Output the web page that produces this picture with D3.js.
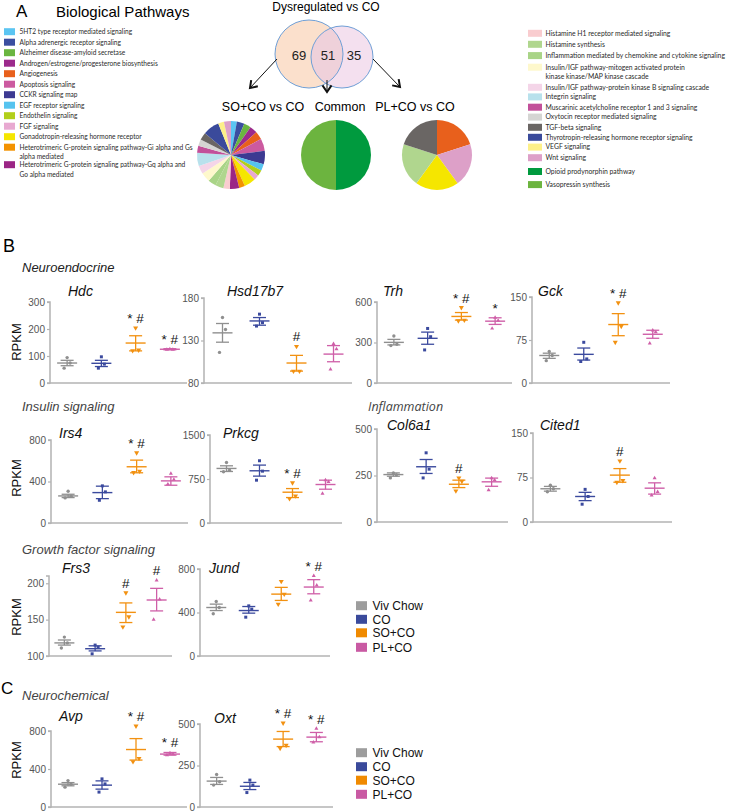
<!DOCTYPE html>
<html><head><meta charset="utf-8">
<script src="https://cdn.jsdelivr.net/npm/d3@7"></script>
<style>body{margin:0;background:#fff}svg{display:block}</style>
</head><body>
<script>
// ---------- Panel A data ----------
const leftPathways = [
  ["5HT2 type receptor mediated signaling"],
  ["Alpha adrenergic receptor signaling"],
  ["Alzheimer disease-amyloid secretase"],
  ["Androgen/estrogene/progesterone biosynthesis"],
  ["Angiogenesis"],
  ["Apoptosis signaling"],
  ["CCKR signaling map"],
  ["EGF receptor signaling"],
  ["Endothelin signaling"],
  ["FGF signaling"],
  ["Gonadotropin-releasing hormone receptor"],
  ["Heterotrimeric G-protein signaling pathway-Gi alpha and Gs", "alpha mediated"],
  ["Heterotrimeric G-protein signaling pathway-Gq alpha and", "Go alpha mediated"]
];
const leftColors = ["#5bc5f2","#3b4ea0","#6ab540","#9c2a8c","#e8601c","#cc5aa0","#3d3a92",
  "#56c3ef","#b2cf1a","#e8a9d1","#f5e600","#f39200","#9b2585"];
const rightPathways = [
  ["Histamine H1 receptor mediated signaling"],
  ["Histamine synthesis"],
  ["Inflammation mediated by chemokine and cytokine signaling"],
  ["Insulin/IGF pathway-mitogen activated protein", "kinase kinase/MAP kinase cascade"],
  ["Insulin/IGF pathway-protein kinase B signaling cascade"],
  ["Integrin signaling"],
  ["Muscarinic acetylcholine receptor 1 and 3 signaling"],
  ["Oxytocin receptor mediated signaling"],
  ["TGF-beta signaling"],
  ["Thyrotropin-releasing hormone receptor signaling"],
  ["VEGF signaling"],
  ["Wnt signaling"],
  ["Opioid prodynorphin pathway"],
  ["Vasopressin synthesis"]
];
const rightColors = ["#f9cccf","#b0d68e","#a9d487","#fef8cc","#f4d5e8","#b8e1ec","#c2509a",
  "#d5d5d3","#6a6664","#3a4a9b","#fdf089","#dda0c8","#009a3e","#6cb43f"];
const vennCounts = [69, 51, 35];
const vennTitle = "Dysregulated vs CO";
const pieTitles = ["SO+CO vs CO", "Common", "PL+CO vs CO"];
const soPieValues = [10,13,12,13,14,21,23,11,10,9,20,10,16,11,14,14,16,14,23,12,11,13,28,10,12];
const commonPieValues = [1, 1];
const commonPieColors = ["#009a3e", "#6cb43f"];
const plPieValues = [1, 1, 1, 1, 1];
const plPieColors = ["#e8601c", "#dda0c8", "#f5e600", "#b0d68e", "#6a6664"];

// ---------- Panel B / C data ----------
const groups = ["Viv Chow", "CO", "SO+CO", "PL+CO"];
const groupColors = ["#8f8f8f", "#3b4a9e", "#f29111", "#cf5fa8"];
const legendColors = ["#9d9d9d", "#3a4a9b", "#f08a00", "#c95aa3"];
const genes = ["Hdc","Hsd17b7","Trh","Gck","Irs4","Prkcg","Col6a1","Cited1","Frs3","Jund","Avp","Oxt"];
const yDomains = [[0,300],[80,180],[0,600],[0,150],[0,800],[0,1500],[0,500],[0,150],[100,210],[0,800],[0,800],[0,500]];
const yTicks = [[0,100,200,300],[80,130,180],[0,300,600],[0,75,150],[0,400,800],[0,750,1500],
  [0,250,500],[0,75,150],[100,150,200],[0,400,800],[0,400,800],[0,250,500]];

const pointsHdc = [[94,74,55],[97,70,55],[204,122,120],[126,124,124]];
const meanHdc = [74,73,148,125];
const semHdc = [[64,84],[61,84],[119,175],[123,127]];
const sigHdc = ["","","* #","* #"];

const pointsHsd17b7 = [[157,143,116],[161,151,147],[123,94,94],[126,120,96]];
const meanHsd17b7 = [139,153,103.5,114];
const semHsd17b7 = [[128,150],[148,157],[94,112.5],[105,124]];
const sigHsd17b7 = ["","","#",""];

const pointsTrh = [[348,287,277],[404,343,245],[559,466,461],[485,463,404]];
const meanTrh = [301,331,493,458];
const semTrh = [[282,323],[287,377],[466,522],[434,483]];
const sigTrh = ["","","* #","*"];

const pointsGck = [[55,48,39],[71,42,37.5],[140,99,71],[92,89,69]];
const meanGck = [48,50,102,85];
const semGck = [[43,52],[40,61],[82.5,121],[78,92]];
const sigGck = ["","","* #",""];

const pointsIrs4 = [[306,258,242],[358,300,219],[677,500,487],[477,419,374]];
const meanIrs4 = [261,293,542,406];
const semIrs4 = [[245,277],[235,355],[484,606],[364,445]];
const sigIrs4 = ["","","* #",""];

const pointsPrkcg = [[1032,901,873],[1061,884,730],[685,462,416],[730,702,502]];
const meanPrkcg = [930,890,525,656];
const semPrkcg = [[878,975],[799,987],[434,587],[576,730]];
const sigPrkcg = ["","","* #",""];

const pointsCol6a1 = [[264,254,237],[372,284,237],[237,219,167],[236,225,171]];
const meanCol6a1 = [255,297,203,216];
const semCol6a1 = [[246,264],[261,336],[185,225],[192,236]];
const sigCol6a1 = ["","","#",""];

const pointsCited1 = [[62,56,51],[55,43,30],[103,70,67],[74,51,45]];
const meanCited1 = [56,43,79,57];
const semCited1 = [[52,60],[36,50],[67,90],[47,66]];
const sigCited1 = ["","","#",""];

const pointsFrs3 = [[126,118,111],[115,112,103],[187,154,140],[204,178,150]];
const meanFrs3 = [118,110,160,177];
const semFrs3 = [[115,122],[107,114],[146,173],[162,193]];
const sigFrs3 = ["","","#","#"];

const pointsJund = [[501,446,388],[461,431,357],[686,569,477],[738,649,511]];
const meanJund = [446,418,569,634];
const semJund = [[418,477],[394,455],[511,631],[572,702]];
const sigJund = ["","","","* #"];

const pointsAvp = [[278,240,209],[296,243,157],[852,511,477],[567,556,546]];
const meanAvp = [240,230,605,557];
const semAvp = [[223,257],[188,275],[494,720],[546,574]];
const sigAvp = ["","","* #","* #"];

const pointsOxt = [[196,152,132],[162,132,87],[506,372,354],[472,421,389]];
const meanOxt = [156,125,409,421];
const semOxt = [[136,178],[105,148],[364,455],[393,449]];
const sigOxt = ["","","* #","* #"];

const sectionTitles = ["Neuroendocrine","Insulin signaling","Inflammation","Growth factor signaling","Neurochemical"];

const geneData = {
  Hdc:[pointsHdc,meanHdc,semHdc,sigHdc], Hsd17b7:[pointsHsd17b7,meanHsd17b7,semHsd17b7,sigHsd17b7],
  Trh:[pointsTrh,meanTrh,semTrh,sigTrh], Gck:[pointsGck,meanGck,semGck,sigGck],
  Irs4:[pointsIrs4,meanIrs4,semIrs4,sigIrs4], Prkcg:[pointsPrkcg,meanPrkcg,semPrkcg,sigPrkcg],
  Col6a1:[pointsCol6a1,meanCol6a1,semCol6a1,sigCol6a1], Cited1:[pointsCited1,meanCited1,semCited1,sigCited1],
  Frs3:[pointsFrs3,meanFrs3,semFrs3,sigFrs3], Jund:[pointsJund,meanJund,semJund,sigJund],
  Avp:[pointsAvp,meanAvp,semAvp,sigAvp], Oxt:[pointsOxt,meanOxt,semOxt,sigOxt]
};

// ---------- layout ----------
const W = 729, H = 812;
const FONT = "'Liberation Sans', Arial, sans-serif";
const svg = d3.select("body").append("svg").attr("width", W).attr("height", H)
  .style("font-family", FONT);

// Panel A header
svg.append("text").attr("x", 16).attr("y", 17).attr("font-size", 17).text("A");
svg.append("text").attr("x", 56).attr("y", 16.5).attr("font-size", 15).text("Biological Pathways");

// legends
function drawLegend(items, colors, x, ys, sw, textX, fs) {
  const g = svg.append("g");
  items.forEach((lines, i) => {
    g.append("rect").attr("x", x).attr("y", ys[i] - 3.5).attr("width", sw).attr("height", 7)
      .attr("fill", colors[i]);
    lines.forEach((ln, j) => {
      g.append("text").attr("x", textX).attr("y", ys[i] + 2.3 + j * 9.8)
        .attr("font-size", fs).attr("font-family", "Lato, 'Open Sans', sans-serif")
        .attr("fill", "#2a2a2a").text(ln);
    });
  });
}
const leftYs = [];
{ let y = 31.7; leftPathways.forEach(l => { leftYs.push(y); y += 10.5 + (l.length - 1) * 7; }); }
drawLegend(leftPathways, leftColors, 4, leftYs, 11, 19.5, 6.6);
const rightYs = [33.3, 44.3, 55.6, 67.2, 87.3, 96.9, 107.2, 117.1, 127.3, 137.3, 147.1, 157.7, 171.5, 184.6];
drawLegend(rightPathways, rightColors, 528, rightYs, 14, 545.5, 6.8);

// Venn
svg.append("text").attr("x", 326).attr("y", 10.5).attr("font-size", 12).attr("text-anchor", "middle").text(vennTitle);
const cL = {x: 309, y: 54, r: 34}, cR = {x: 342, y: 57, r: 31};
const defs = svg.append("defs");
defs.append("clipPath").attr("id", "clipL").append("circle").attr("cx", cL.x).attr("cy", cL.y).attr("r", cL.r);
svg.append("circle").attr("cx", cL.x).attr("cy", cL.y).attr("r", cL.r).attr("fill", "#fbe0cc");
svg.append("circle").attr("cx", cR.x).attr("cy", cR.y).attr("r", cR.r).attr("fill", "#f4e0ef");
svg.append("circle").attr("cx", cR.x).attr("cy", cR.y).attr("r", cR.r).attr("fill", "#efd1da").attr("clip-path", "url(#clipL)");
[cL, cR].forEach(c => svg.append("circle").attr("cx", c.x).attr("cy", c.y).attr("r", c.r)
  .attr("fill", "none").attr("stroke", "#6f9fd6").attr("stroke-width", 1));
[[299, vennCounts[0]], [328, vennCounts[1]], [354, vennCounts[2]]].forEach(([x, t]) =>
  svg.append("text").attr("x", x).attr("y", 59.5).attr("font-size", 13).attr("text-anchor", "middle").attr("fill", "#222").text(t));

// arrows
function arrow(x1, y1, x2, y2) {
  svg.append("line").attr("x1", x1).attr("y1", y1).attr("x2", x2).attr("y2", y2)
    .attr("stroke", "#111").attr("stroke-width", 1);
  const a = Math.atan2(y2 - y1, x2 - x1), L = 8, s = 0.6;
  const p1 = [x2 - L * Math.cos(a - s), y2 - L * Math.sin(a - s)];
  const p2 = [x2 - L * Math.cos(a + s), y2 - L * Math.sin(a + s)];
  svg.append("path").attr("d", `M${p1}L${x2},${y2}L${p2}`).attr("fill", "none")
    .attr("stroke", "#111").attr("stroke-width", 2);
}
arrow(277, 59, 250, 88);
arrow(327, 80, 327, 92);
arrow(373, 59, 400, 87);

// pie titles
[[263, pieTitles[0]], [340, pieTitles[1]], [415, pieTitles[2]]].forEach(([x, t]) =>
  svg.append("text").attr("x", x).attr("y", 110.5).attr("font-size", 12.5).attr("text-anchor", "middle").text(t));

// pies
function drawPie(values, colors, cx, cy, r) {
  const arcs = d3.pie().sort(null)(values);
  const arcGen = d3.arc().innerRadius(0).outerRadius(r);
  svg.append("g").attr("transform", `translate(${cx},${cy})`).selectAll("path").data(arcs).join("path")
    .attr("d", arcGen).attr("fill", (d, i) => colors[i]);
}
drawPie(soPieValues, leftColors.concat(rightColors.slice(0, 12)), 231, 155, 34);
drawPie(commonPieValues, commonPieColors, 336, 155, 35);
drawPie(plPieValues, plPieColors, 437, 155, 35);

// ---------- Panel B/C ----------
svg.append("text").attr("x", 3).attr("y", 252).attr("font-size", 18).text("B");
svg.append("text").attr("x", 1).attr("y", 694).attr("font-size", 17).text("C");

const sectionPos = [[22, 272], [22, 410.5], [368, 410.5], [22, 553.5], [22, 700]];
sectionTitles.forEach((t, i) => svg.append("text").attr("x", sectionPos[i][0]).attr("y", sectionPos[i][1])
  .attr("font-size", i === 2 ? 12.5 : 13).attr("font-style", "italic")
  .attr("font-family", i === 2 ? "'Open Sans', sans-serif" : FONT)
  .attr("fill", i === 0 ? "#222" : "#444").text(t));

[342, 478, 617, 760].forEach(cy => svg.append("text").attr("transform", `translate(21,${cy}) rotate(-90)`)
  .attr("font-size", 13).attr("text-anchor", "middle").attr("fill", "#111").text("RPKM"));

const layout = [
  {x0:50, x1:187, yb:383, yt:302, tx:18, ty:296},
  {x0:204,x1:352, yb:383, yt:298, tx:23, ty:296},
  {x0:377,x1:512, yb:383, yt:302, tx:6,  ty:296},
  {x0:532,x1:670, yb:383, yt:297, tx:6,  ty:296},
  {x0:51, x1:188, yb:523, yt:440, tx:8,  ty:438},
  {x0:210,x1:342, yb:523, yt:435, tx:13, ty:438},
  {x0:377,x1:508, yb:522, yt:429, tx:10, ty:430},
  {x0:533,x1:672, yb:522, yt:433, tx:7,  ty:430},
  {x0:49, x1:172, yb:656, yt:576, tx:13, ty:573},
  {x0:200,x1:330, yb:656, yt:569, tx:9,  ty:573},
  {x0:51, x1:187, yb:807, yt:731, tx:8,  ty:721},
  {x0:200,x1:333, yb:807, yt:724, tx:14, ty:723}
];
const jitter = [0, 3, -3];
const symbols = [d3.symbolCircle, d3.symbolSquare, d3.symbolTriangle, d3.symbolTriangle];
const symRot = [0, 0, 180, 0];
const symSize = [9, 9, 11, 7];

genes.forEach((gene, gi) => {
  const L = layout[gi];
  const [pts, means, sems, sigs] = geneData[gene];
  const y = d3.scaleLinear().domain(yDomains[gi]).range([L.yb, L.yt]);
  const x = d3.scalePoint().domain(groups).range([L.x0, L.x1]).padding(0.5);
  const g = svg.append("g");
  const ay = g.append("g").attr("transform", `translate(${L.x0},0)`)
    .call(d3.axisLeft(y).tickValues(yTicks[gi]).tickSize(3).tickPadding(2).tickFormat(d3.format("d")));
  ay.select(".domain").attr("stroke", "#b3b3b3").attr("stroke-width", 1.5).attr("d", `M-3,${L.yt}H0V${L.yb}H-3`);
  ay.selectAll(".tick line").attr("stroke", "#b3b3b3").attr("stroke-width", 1.2);
  ay.selectAll(".tick text").attr("font-size", 10).attr("fill", "#555").attr("font-family", FONT);
  g.append("line").attr("x1", L.x0).attr("x2", L.x1).attr("y1", L.yb).attr("y2", L.yb)
    .attr("stroke", "#b3b3b3").attr("stroke-width", 1.5);
  g.append("text").attr("x", L.x0 + L.tx).attr("y", L.ty).attr("font-size", 14)
    .attr("font-style", "italic").attr("fill", "#111").text(gene);
  groups.forEach((grp, k) => {
    const cx = x(grp), col = groupColors[k];
    g.append("line").attr("x1", cx).attr("x2", cx).attr("y1", y(sems[k][0])).attr("y2", y(sems[k][1]))
      .attr("stroke", col).attr("stroke-width", 1.3);
    sems[k].forEach(v => g.append("line").attr("x1", cx - 6.5).attr("x2", cx + 6.5)
      .attr("y1", y(v)).attr("y2", y(v)).attr("stroke", col).attr("stroke-width", 1.3));
    g.append("line").attr("x1", cx - 10).attr("x2", cx + 10).attr("y1", y(means[k])).attr("y2", y(means[k]))
      .attr("stroke", col).attr("stroke-width", 1.4);
    pts[k].forEach((v, j) => g.append("path")
      .attr("d", d3.symbol().type(symbols[k]).size(symSize[k])())
      .attr("transform", `translate(${cx + jitter[j]},${y(v)}) rotate(${symRot[k]})`)
      .attr("fill", col));
    if (sigs[k]) {
      const top = Math.max(d3.max(pts[k]), sems[k][1]);
      g.append("text").attr("x", cx).attr("y", y(top) - 5).attr("text-anchor", "middle")
        .attr("font-size", 13.5).attr("fill", "#111").text(sigs[k]);
    }
  });
});

function groupLegend(ys) {
  groups.forEach((grp, i) => {
    svg.append("rect").attr("x", 356).attr("y", ys[i] - 4.5).attr("width", 11).attr("height", 9).attr("fill", legendColors[i]);
    svg.append("text").attr("x", 372.5).attr("y", ys[i] + 4.3).attr("font-size", 12).attr("fill", "#111").text(grp);
  });
}
groupLegend([605.7, 619.3, 632.8, 647.3]);
groupLegend([752.7, 766.7, 780.2, 794.3]);
</script>
</body></html>
